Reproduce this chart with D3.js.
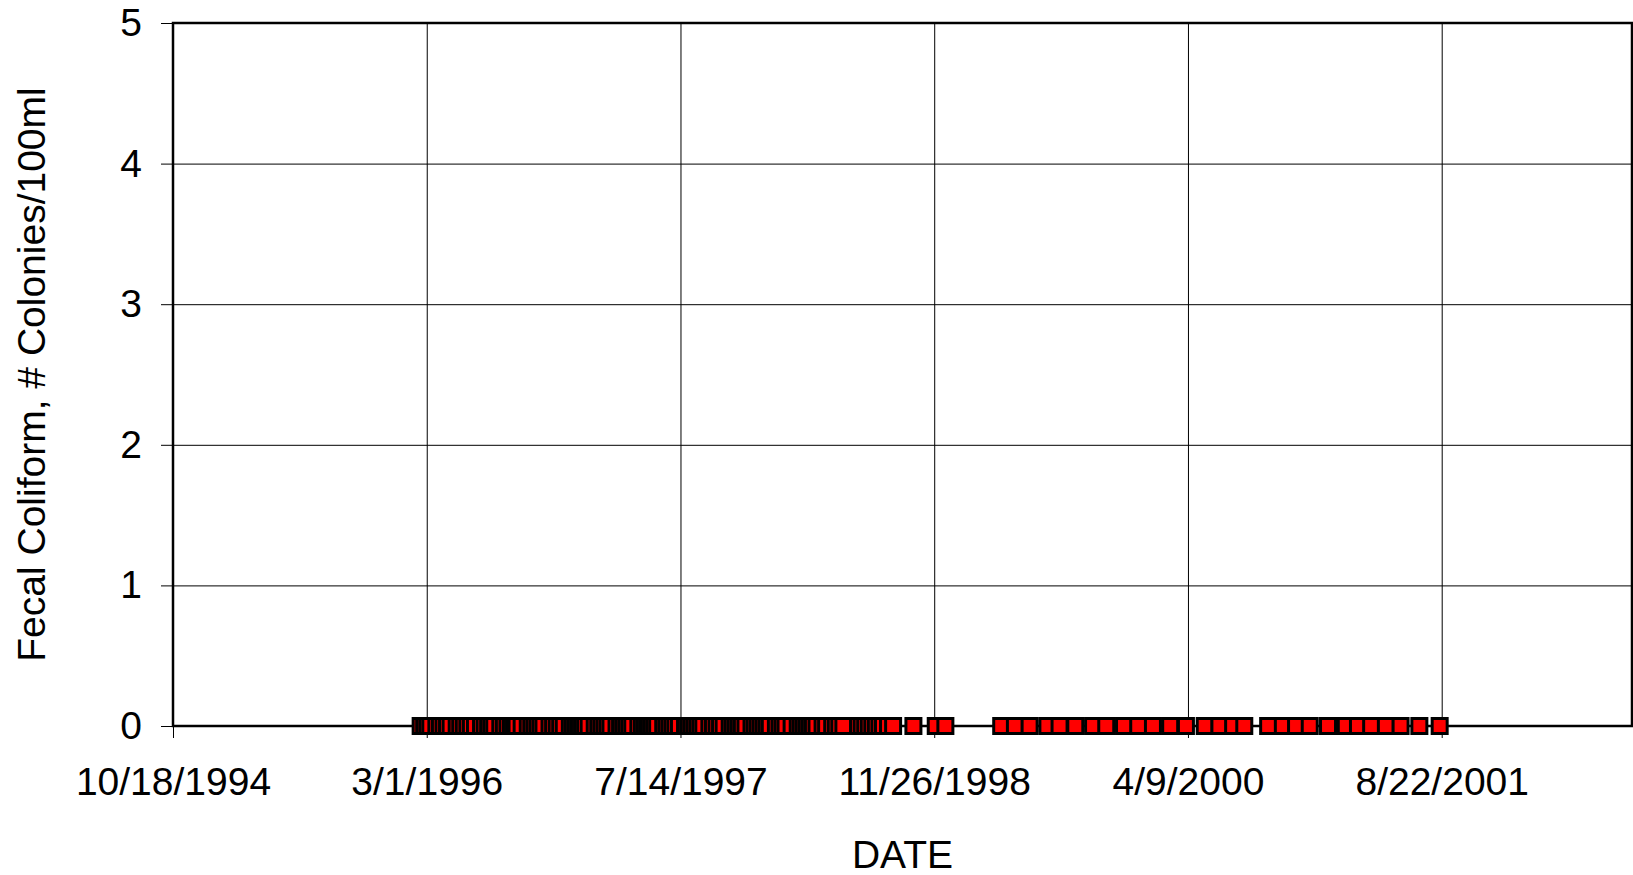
<!DOCTYPE html>
<html>
<head>
<meta charset="utf-8">
<script src="https://cdn.jsdelivr.net/npm/d3@7"></script>
<style>
  body { margin: 0; background: #fff; }
  text { font-family: "Liberation Sans", Arial, sans-serif; fill: #000; }
</style>
</head>
<body>
<div id="chart"></div>
<script>
// sample dates (all results read as 0 colonies/100ml)
const sampleDates = [
  '1996-02-18', '1996-02-25', '1996-03-02', '1996-03-08', '1996-03-20', '1996-03-27',
  '1996-04-03', '1996-04-10', '1996-04-17', '1996-04-29', '1996-05-06', '1996-05-13',
  '1996-05-20', '1996-05-27', '1996-06-04', '1996-06-16', '1996-06-23', '1996-06-30',
  '1996-07-06', '1996-07-12', '1996-07-24', '1996-07-31', '1996-08-07', '1996-08-14',
  '1996-08-20', '1996-08-25', '1996-09-04', '1996-09-16', '1996-09-23', '1996-09-29',
  '1996-10-05', '1996-10-11', '1996-10-17', '1996-10-29', '1996-11-05', '1996-11-12',
  '1996-11-19', '1996-11-26', '1996-12-08', '1996-12-14', '1996-12-20', '1996-12-26',
  '1997-01-01', '1997-01-07', '1997-01-14', '1997-01-26', '1997-02-02', '1997-02-08',
  '1997-02-14', '1997-02-20', '1997-02-26', '1997-03-10', '1997-03-17', '1997-03-23',
  '1997-03-29', '1997-04-04', '1997-04-10', '1997-04-22', '1997-04-29', '1997-05-05',
  '1997-05-11', '1997-05-17', '1997-05-23', '1997-05-29', '1997-06-10', '1997-06-16',
  '1997-06-22', '1997-06-28', '1997-07-04', '1997-07-11', '1997-07-23', '1997-07-29',
  '1997-08-04', '1997-08-10', '1997-08-16', '1997-08-22', '1997-08-28', '1997-09-09',
  '1997-09-16', '1997-09-23', '1997-09-30', '1997-10-07', '1997-10-19', '1997-10-25',
  '1997-10-31', '1997-11-06', '1997-11-12', '1997-11-19', '1997-12-01', '1997-12-07',
  '1997-12-13', '1997-12-19', '1997-12-25', '1997-12-31', '1998-01-06', '1998-01-18',
  '1998-01-25', '1998-01-31', '1998-02-06', '1998-02-18', '1998-03-02', '1998-03-08',
  '1998-03-14', '1998-03-20', '1998-03-26', '1998-04-01', '1998-04-08', '1998-04-20',
  '1998-04-27', '1998-05-09', '1998-05-16', '1998-05-23', '1998-05-31', '1998-06-29',
  '1998-07-06', '1998-07-13', '1998-07-20', '1998-07-27', '1998-08-03', '1998-08-10',
  '1998-08-17', '1998-08-27', '1998-09-06', '1998-10-16', '1998-11-29', '1998-12-18',
  '1999-04-07', '1999-05-04', '1999-06-02', '1999-07-07', '1999-07-31', '1999-08-31',
  '1999-10-05', '1999-10-31', '1999-12-05', '2000-01-02', '2000-01-31', '2000-03-05',
  '2000-04-05', '2000-05-12', '2000-06-10', '2000-07-07', '2000-07-29', '2000-09-14',
  '2000-10-13', '2000-11-08', '2000-12-05', '2001-01-10', '2001-02-14', '2001-03-10',
  '2001-04-05', '2001-05-04', '2001-06-02', '2001-07-09', '2001-08-18'
];
const fecalColiform = sampleDates.map(() => 0);

const xDomain = ['1994-10-18', '2002-09-01'];
const xTicks = ['1994-10-18', '1996-03-01', '1997-07-14', '1998-11-26', '2000-04-09', '2001-08-22'];
const yTicks = [0, 1, 2, 3, 4, 5];

const parse = d3.timeParse('%Y-%m-%d');
const data = sampleDates.map((d, i) => ({ date: parse(d), value: fecalColiform[i] }));

// layout
const W = 1633, H = 875;
const margin = { top: 23, right: 1, bottom: 149, left: 173 };
const width = W - margin.left - margin.right;
const height = H - margin.top - margin.bottom;
const fontSize = 39;

const svg = d3.select('#chart').append('svg')
  .attr('width', W)
  .attr('height', H);

const g = svg.append('g')
  .attr('transform', `translate(${margin.left},${margin.top})`);

const x = d3.scaleTime().domain(xDomain.map(parse)).range([0, width]);
const y = d3.scaleLinear().domain([0, 5]).range([height, 0]);

// grid lines
g.append('g')
  .call(d3.axisLeft(y).tickValues(yTicks).tickSize(-width).tickFormat(''))
  .call((a) => a.select('.domain').remove())
  .call((a) => a.selectAll('.tick line').attr('stroke', '#000').attr('stroke-width', 1));
g.append('g')
  .attr('transform', `translate(0,${height})`)
  .call(d3.axisBottom(x).tickValues(xTicks.map(parse)).tickSize(-height).tickFormat(''))
  .call((a) => a.select('.domain').remove())
  .call((a) => a.selectAll('.tick line').attr('stroke', '#000').attr('stroke-width', 1));

// outer ticks and labels
g.append('g')
  .call(d3.axisLeft(y).tickValues(yTicks).tickSize(12).tickPadding(19).tickFormat(d3.format('d')))
  .call((a) => a.select('.domain').remove())
  .call((a) => a.selectAll('.tick line').attr('stroke', '#000'))
  .call((a) => a.selectAll('text').style('font-size', fontSize + 'px'));

g.append('g')
  .attr('transform', `translate(0,${height})`)
  .call(d3.axisBottom(x).tickValues(xTicks.map(parse)).tickSize(12).tickPadding(29)
    .tickFormat(d3.timeFormat('%-m/%-d/%Y')))
  .call((a) => a.select('.domain').remove())
  .call((a) => a.selectAll('.tick line').attr('stroke', '#000'))
  .call((a) => a.selectAll('text').style('font-size', fontSize + 'px'));

// plot frame
g.append('rect')
  .attr('width', width)
  .attr('height', height)
  .attr('fill', 'none')
  .attr('stroke', '#000')
  .attr('stroke-width', 2.5);

// markers
const size = 15;
g.selectAll('.pt')
  .data(data)
  .enter()
  .append('rect')
  .attr('class', 'pt')
  .attr('x', (d) => x(d.date) - size / 2)
  .attr('y', (d) => y(d.value) - size / 2)
  .attr('width', size)
  .attr('height', size)
  .attr('fill', '#ff0000')
  .attr('stroke', '#000')
  .attr('stroke-width', 3);

// axis titles
g.append('text')
  .attr('x', width / 2)
  .attr('y', height + 142)
  .attr('text-anchor', 'middle')
  .style('font-size', fontSize + 'px')
  .text('DATE');

g.append('text')
  .attr('transform', 'rotate(-90)')
  .attr('x', -height / 2)
  .attr('y', -128)
  .attr('text-anchor', 'middle')
  .style('font-size', fontSize + 'px')
  .text('Fecal Coliform, # Colonies/100ml');
</script>
</body>
</html>
